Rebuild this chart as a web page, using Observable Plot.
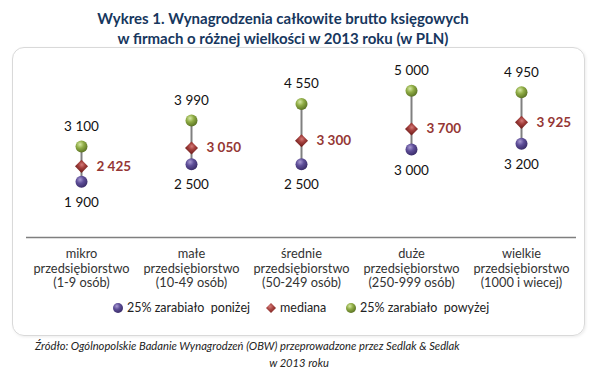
<!DOCTYPE html>
<html>
<head>
<meta charset="utf-8">
<script src="https://cdn.jsdelivr.net/npm/d3@7"></script>
<script src="https://cdn.jsdelivr.net/npm/@observablehq/plot@0.6"></script>
<style>
  html, body { margin: 0; padding: 0; background: #fff; }
  body { width: 598px; height: 374px; position: relative; overflow: hidden; font-family: Lato, "Open Sans", sans-serif; }
  #title { position: absolute; left: 0; width: 566px; top: 8px; text-align: center; color: #17375e; font-weight: bold; font-size: 15px; line-height: 20px; }
  #box { position: absolute; left: 12px; top: 47px; width: 571px; height: 287px; border: 1px solid #d9d9d9; border-radius: 12px; box-shadow: 1px 1px 3px rgba(0,0,0,0.08); }
  #chart { position: absolute; left: 0; top: 47px; }
  .leg { position: absolute; top: 300px; font-size: 12.5px; color: #222; white-space: nowrap; display: flex; align-items: center; }
  .leg svg { margin-right: 3px; }
  .src { position: absolute; font-style: italic; font-size: 11.2px; color: #222; white-space: nowrap; }
</style>
</head>
<body>
<div id="title">Wykres 1. Wynagrodzenia całkowite brutto księgowych<br>w firmach o różnej wielkości w 2013 roku (w PLN)</div>
<div id="box"></div>
<div id="chart"></div>
<div id="legend"></div>
<div class="src" style="left:35px; top:339px;">Źródło: Ogólnopolskie Badanie Wynagrodzeń (OBW) przeprowadzone przez Sedlak &amp; Sedlak</div>
<div class="src" style="left:0; width:598px; text-align:center; top:356px;">w 2013 roku</div>
<script>
const categories = [
  "mikro\nprzedsiębiorstwo\n(1-9 osób)",
  "małe\nprzedsiębiorstwo\n(10-49 osób)",
  "średnie\nprzedsiębiorstwo\n(50-249 osób)",
  "duże\nprzedsiębiorstwo\n(250-999 osób)",
  "wielkie\nprzedsiębiorstwo\n(1000 i wiecej)"
];
const low = [1900, 2500, 2500, 3000, 3200];
const median = [2425, 3050, 3300, 3700, 3925];
const high = [3100, 3990, 4550, 5000, 4950];
const legendLabels = ["25% zarabiało  poniżej", "mediana", "25% zarabiało  powyżej"];

const fmtS = v => { const s = String(v); return s.length > 3 ? s.slice(0, s.length - 3) + " " + s.slice(-3) : s; };

const data = categories.map((c, i) => ({ cat: c, low: low[i], median: median[i], high: high[i] }));

const plot = Plot.plot({
  width: 598,
  height: 250,
  marginLeft: 26,
  marginRight: 22,
  marginTop: 14,
  marginBottom: 60,
  style: { fontFamily: "Lato, 'Open Sans', sans-serif", background: "transparent", overflow: "visible" },
  x: { type: "band", domain: categories, padding: 0, axis: null, label: null },
  y: { domain: [0, 6000], axis: null },
  marks: [
    Plot.ruleY([0], { stroke: "#7f7f7f", strokeWidth: 1.5 }),
    Plot.axisX({ tickSize: 0, tickPadding: 10, fontSize: 12.8, lineHeight: 1.15, fill: "#333", label: null }),
    Plot.ruleX(data, { x: "cat", y1: "low", y2: "high", stroke: "#808080", strokeWidth: 2 }),
    Plot.dot(data, { x: "cat", y: "high", r: 6, fill: "url(#gGreen)", stroke: "none" }),
    Plot.dot(data, { x: "cat", y: "low", r: 6, fill: "url(#gPurple)", stroke: "none" }),
    Plot.dot(data, { x: "cat", y: "median", r: 5.2, symbol: "square", rotate: 45, fill: "url(#gRed)", stroke: "none" }),
    Plot.text(data, { x: "cat", y: "high", text: d => fmtS(d.high), dy: -20, fontSize: 13.5, fill: "#111" }),
    Plot.text(data, { x: "cat", y: "low", text: d => fmtS(d.low), dy: 21, fontSize: 13.5, fill: "#111" }),
    Plot.text(data, { x: "cat", y: "median", text: d => fmtS(d.median), dx: 15, textAnchor: "start", fontSize: 13.5, fontWeight: "bold", fill: "#953735" })
  ]
});

const defs = `
<defs>
  <radialGradient id="gGreen" cx="0.38" cy="0.32" r="0.7">
    <stop offset="0" stop-color="#d6e8a4"/>
    <stop offset="0.45" stop-color="#8fac45"/>
    <stop offset="1" stop-color="#5a7224"/>
  </radialGradient>
  <radialGradient id="gPurple" cx="0.38" cy="0.32" r="0.7">
    <stop offset="0" stop-color="#a89ad2"/>
    <stop offset="0.45" stop-color="#5e4e98"/>
    <stop offset="1" stop-color="#3a2c68"/>
  </radialGradient>
  <radialGradient id="gRed" cx="0.4" cy="0.35" r="0.7">
    <stop offset="0" stop-color="#d47a78"/>
    <stop offset="0.5" stop-color="#a4403d"/>
    <stop offset="1" stop-color="#7a2624"/>
  </radialGradient>
</defs>`;
plot.insertAdjacentHTML("afterbegin", defs);
document.getElementById("chart").appendChild(plot);

// legend
const legend = document.getElementById("legend");
const items = [
  { x: 112, label: legendLabels[0], sym: `<svg width="12" height="12"><circle cx="6" cy="6" r="5" fill="url(#gPurple)"/></svg>` },
  { x: 265, label: legendLabels[1], sym: `<svg width="12" height="12"><path d="M6 1L11 6L6 11L1 6Z" fill="url(#gRed)"/></svg>` },
  { x: 345, label: legendLabels[2], sym: `<svg width="12" height="12"><circle cx="6" cy="6" r="5" fill="url(#gGreen)"/></svg>` }
];
items.forEach(it => {
  const d = document.createElement("div");
  d.className = "leg";
  d.style.left = it.x + "px";
  d.innerHTML = it.sym + `<span style="white-space:pre">${it.label}</span>`;
  legend.appendChild(d);
});
</script>
</body>
</html>
